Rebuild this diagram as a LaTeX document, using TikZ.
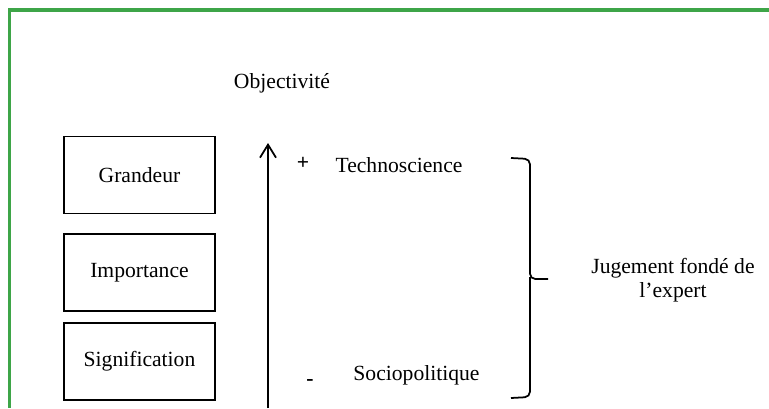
\documentclass[tikz,border=0pt]{standalone}
\usepackage{fontspec}
\setmainfont{Liberation Serif}
\usepackage{xcolor}
\usepackage{tikz}
\usetikzlibrary{arrows.meta,positioning,calc}
\definecolor{cadrevert}{RGB}{62,165,72}
\tikzset{boite/.style={draw=black,line width=1pt,minimum width=3.02cm,minimum height=1.54cm,inner sep=0pt,align=center}}
\tikzset{texte/.style={inner sep=0pt,align=center}}

\begin{document}
\begin{tikzpicture}[>={Straight Barb[length=2.6mm,width=3.2mm]}, font=\fontsize{12.3}{13.8}\selectfont]
        \useasboundingbox (0,0) rectangle (15.38,8.16);
        \draw[cadrevert, line width=2pt] (15.38,7.96) -- (0.19,7.96) -- (0.19,0);
        \node[texte] (O) at (5.64,6.50) {Objectivité};
        \node[boite] (G) at (2.79,4.66) {Grandeur};
        \node[boite] (I) at (2.79,2.71) {Importance};
        \node[boite] (S) at (2.79,0.93) {Signification};
        \coordinate (bas) at (5.36,0);
        \coordinate (haut) at (5.36,5.30);
        \draw[->, line width=1pt] (bas) -- (haut);
        \node[texte] (plus) at (6.06,4.90) {\textbf{+}};
        \node[texte] (T) at (7.98,4.86) {Technoscience};
        \node[texte] (moins) at (6.2,0.52) {\textbf{-}};
        \node[texte] (SP) at (8.33,0.66) {Sociopolitique};
        % accolade
        \draw[line width=1pt, rounded corners=3pt] (10.22,5.0) -- (10.6,4.98) -- (10.6,2.58) -- (10.96,2.58);
        \draw[line width=1pt, rounded corners=3pt] (10.6,2.62) -- (10.6,0.22) -- (10.22,0.2);
        \node[texte] (J) at (13.46,2.56) {Jugement fondé de\\l’expert};
\end{tikzpicture}
\end{document}
